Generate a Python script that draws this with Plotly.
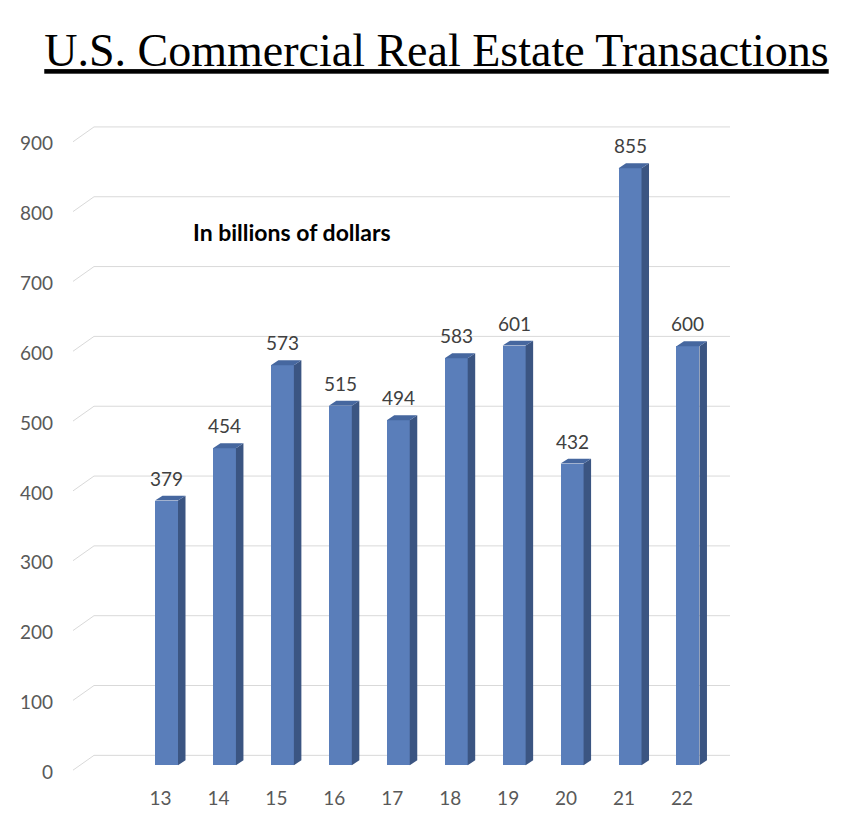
import plotly.graph_objects as go

# ---- data ----
years = ["13", "14", "15", "16", "17", "18", "19", "20", "21", "22"]
values = [379, 454, 573, 515, 494, 583, 601, 432, 855, 600]
y_ticks = [0, 100, 200, 300, 400, 500, 600, 700, 800, 900]
title_text = "U.S. Commercial Real Estate Transactions"
note_text = "In billions of dollars"

# ---- geometry (pixels) ----
W, H = 863, 821
L, R, T, B = 60, 750, 100, 793
PX_X = 57.94          # px per category step
X0_PX = 166.5         # pixel of first bar front centre
PX_Y = 0.7064         # px per unit value
Y0_PX = 773           # pixel of value 0 (front plane)

xmin = -(X0_PX - L) / PX_X
xmax = (R - X0_PX) / PX_X
ymin = -(B - Y0_PX) / PX_Y
ymax = (Y0_PX - T) / PX_Y

def dx(px):
    return px / PX_X

def dy(px):  # upward pixels -> data
    return px / PX_Y

def xpx(px):
    return xmin + (px - L) / PX_X

FRONT = "#5A7EBA"
SIDE = "#3B5582"
TOP = "#46679F"
GRID = "#D9D9D9"

xs = list(range(len(years)))
bw = dx(23)
ddx, ddy = dx(7.5), dy(5)

fig = go.Figure()

# gridlines (3D floor/wall style) drawn below the data
for v in y_ticks:
    path = "M {} {} L {} {} L {} {}".format(xpx(73), v - dy(5), xpx(94), v + dy(10),
                                             xpx(730), v + dy(10))
    fig.add_shape(type="path", path=path, xref="x", yref="y", layer="below",
                  line=dict(color=GRID, width=1))

# front faces
fig.add_trace(go.Bar(x=xs, y=values, width=bw, marker=dict(color=FRONT, line=dict(width=0)),
                     hoverinfo="skip", showlegend=False))

# side faces
sx, sy = [], []
for x, v in zip(xs, values):
    xr = x + bw / 2
    sx += [xr, xr + ddx, xr + ddx, xr, xr, None]
    sy += [0, ddy, v + ddy, v, 0, None]
fig.add_trace(go.Scatter(x=sx, y=sy, mode="lines", fill="toself", fillcolor=SIDE,
                         line=dict(width=0, color=SIDE), hoverinfo="skip", showlegend=False))

# top faces
tx, ty = [], []
for x, v in zip(xs, values):
    xl, xr = x - bw / 2, x + bw / 2
    tx += [xl, xl + ddx, xr + ddx, xr, xl, None]
    ty += [v, v + ddy, v + ddy, v, v, None]
fig.add_trace(go.Scatter(x=tx, y=ty, mode="lines", fill="toself", fillcolor=TOP,
                         line=dict(width=0, color=TOP), hoverinfo="skip", showlegend=False))

# data labels
for x, v in zip(xs, values):
    fig.add_annotation(x=x, y=v, text=str(v), showarrow=False, yanchor="bottom",
                       yshift=9, font=dict(family="Lato", size=19, color="#404040"))

fig.add_annotation(xref="paper", yref="paper",
                   x=(292 - L) / (R - L), y=(B - 234) / (B - T),
                   xanchor="center", yanchor="middle",
                   text="<b>" + note_text + "</b>", showarrow=False,
                   font=dict(family="Lato", size=23, color="#000000"))

fig.update_layout(
    width=W, height=H,
    margin=dict(l=L, r=W - R, t=T, b=H - B),
    paper_bgcolor="white", plot_bgcolor="white",
    title=dict(text="<u>" + title_text + "</u>", x=436.5 / W, xanchor="center",
               y=1 - 50 / H, yanchor="middle", yref="container",
               font=dict(family="Liberation Serif", size=46, color="#000000")),
    xaxis=dict(range=[xmin, xmax], tickvals=xs, ticktext=years, showgrid=False,
               zeroline=False, showline=False, ticks="", ticklabelshift=-6,
               tickfont=dict(family="Lato", size=19, color="#595959")),
    yaxis=dict(range=[ymin, ymax], tickvals=y_ticks, showgrid=False, zeroline=False,
               showline=False, ticks="", ticklabelshift=7, ticklabelstandoff=6,
               tickfont=dict(family="Lato", size=19, color="#595959")),
    bargap=0,
)

fig.write_html("out.html")
